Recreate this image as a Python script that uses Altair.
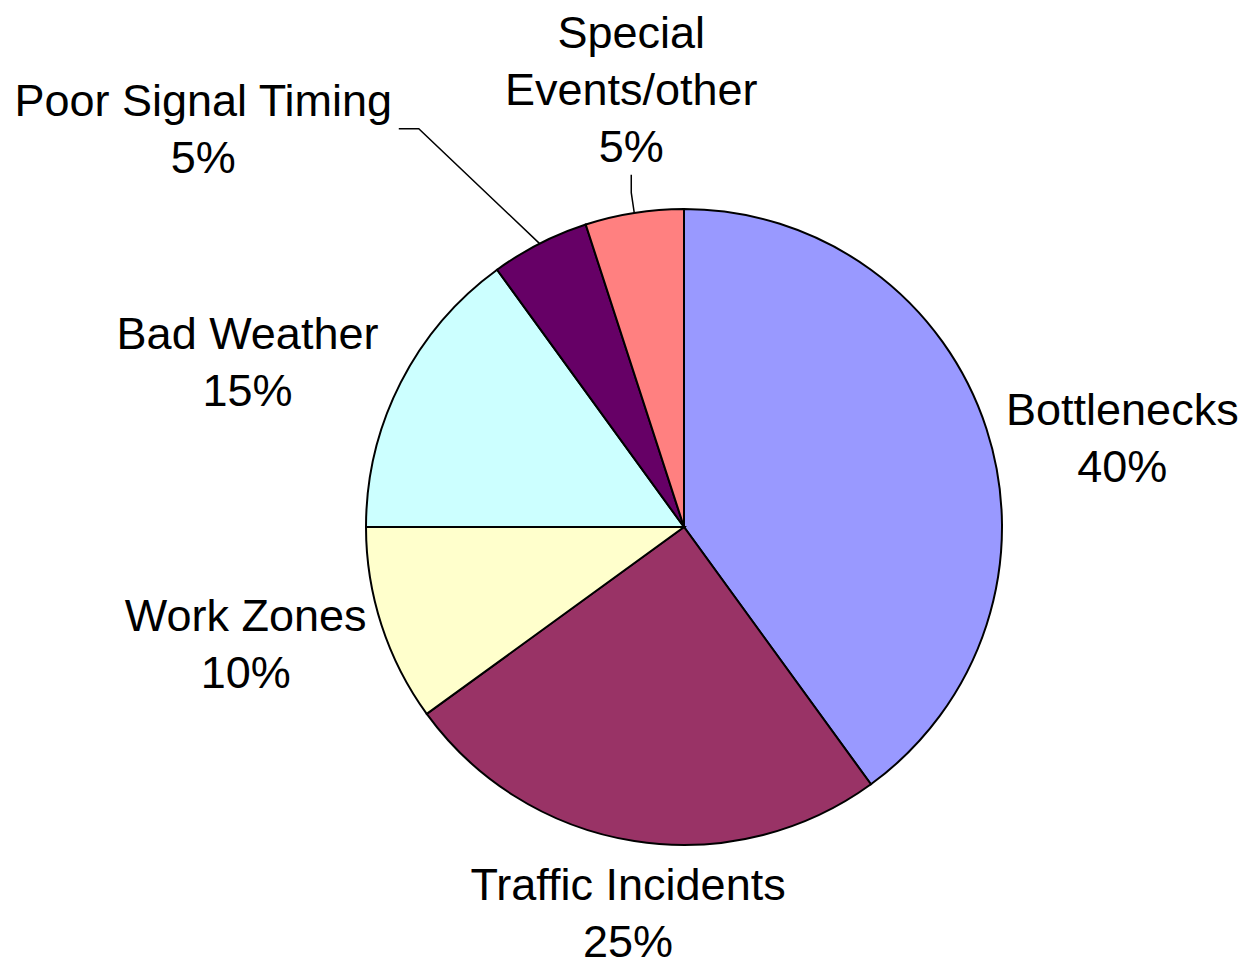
import math
import altair as alt
import pandas as pd

# ---- data ----
categories = ["Bottlenecks", "Traffic Incidents", "Work Zones", "Bad Weather",
              "Poor Signal Timing", "Special Events/other"]
shares = [40, 25, 10, 15, 5, 5]
label_names = ["Bottlenecks", "Traffic Incidents", "Work Zones", "Bad Weather",
               "Poor Signal Timing", "Special\nEvents/other"]
colors = ["#9999FF", "#993366", "#FFFFCC", "#CCFFFF", "#660066", "#FF8080"]

# ---- layout ----
W, H = 1231, 959
CX, CY = 676, 519
R = 318
LH = 57
label_shift_deg = [6.7, -0.8, 2.9, -6.5, -23.5, 2.1]
label_radius = [447, 392, 454, 466, 623, 439]
# leader lines: offsets (relative to label anchor) of elbow and end points
leaders = {
    "Poor Signal Timing": [(215.5, -2), (195.5, -2)],
    "Special Events/other": [(0, 101.5), (0, 83.5)],
}

total = sum(shares)
slices = pd.DataFrame({"category": categories, "value": shares,
                       "order": list(range(len(categories)))})

mids = []
cum = 0
for v in shares:
    mids.append((cum + v / 2) / total * 360.0)
    cum += v

def polar(angle_deg, r):
    a = math.radians(angle_deg)
    return r * math.sin(a), -r * math.cos(a)

lab_rows = []
lead_rows = []
for i, c in enumerate(categories):
    lx, ly = polar(mids[i] + label_shift_deg[i], label_radius[i])
    txt = f"{label_names[i]}\n{shares[i]}%"
    nlines = txt.count("\n") + 1
    lab_rows.append({"category": c, "lx": lx, "ly": ly - (nlines - 1) * LH / 2,
                     "label": txt})
    if c in leaders:
        ex, ey = polar(mids[i], R)
        pts = [(ex, ey)] + [(lx + dx, ly + dy) for dx, dy in leaders[c]]
        for k, (px, py) in enumerate(pts):
            lead_rows.append({"category": c, "pt": k, "lx": px, "ly": py})

labels = pd.DataFrame(lab_rows)
leads = pd.DataFrame(lead_rows)

xs = alt.Scale(domain=[-CX, W - CX], nice=False, zero=False)
ys = alt.Scale(domain=[-CY, H - CY], nice=False, zero=False, reverse=True)

pie = alt.Chart(slices).mark_arc(radius=R, stroke="black", strokeWidth=2).encode(
    theta=alt.Theta("value:Q", stack=True),
    order=alt.Order("order:Q"),
    color=alt.Color("category:N", scale=alt.Scale(domain=categories, range=colors),
                    legend=None),
    x=alt.XDatum(0, type="quantitative", scale=xs, axis=None),
    y=alt.YDatum(0, type="quantitative", scale=ys, axis=None),
)

lines = alt.Chart(leads).mark_line(color="black", strokeWidth=1.5).encode(
    x=alt.X("lx:Q", scale=xs, axis=None),
    y=alt.Y("ly:Q", scale=ys, axis=None),
    detail="category:N",
    order="pt:Q",
)

text = alt.Chart(labels).mark_text(
    align="center", baseline="middle", fontSize=45, font="Liberation Sans",
    lineHeight=LH, lineBreak="\n", color="black",
).encode(
    x=alt.X("lx:Q", scale=xs, axis=None),
    y=alt.Y("ly:Q", scale=ys, axis=None),
    text="label:N",
)

chart = alt.layer(pie, lines, text).properties(
    width=W, height=H, padding=0,
    autosize=alt.AutoSizeParams(type="none"),
).configure_view(stroke=None)

chart.save("out.html", embed_options={"renderer": "svg", "actions": False})
